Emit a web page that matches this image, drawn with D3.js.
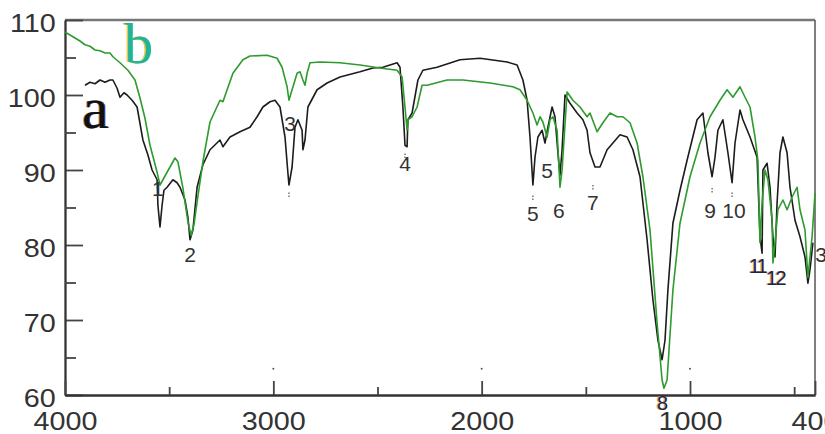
<!DOCTYPE html>
<html>
<head>
<meta charset="utf-8">
<script src="https://cdn.jsdelivr.net/npm/d3@7"></script>
<style>
  body { margin: 0; background: #fff; }
  svg { display: block; }
</style>
</head>
<body>
<div id="chart"></div>
<script>
const width = 825;
const height = 434;

// spectrum a (black), [wavenumber, transmittance]
const seriesA = [
    [3904, 101.3], [3880, 101.7], [3856, 101.5], [3832, 102.0], [3808, 101.7], [3784, 102.0],
    [3770, 102.0], [3750, 100.9], [3736, 99.7], [3717, 100.3], [3702, 100.0], [3678, 99.3],
    [3654, 98.4], [3626, 94.0], [3602, 92.0], [3582, 90.0], [3558, 88.7], [3554, 85.3],
    [3544, 82.4], [3534, 85.3], [3525, 87.3], [3510, 87.7], [3482, 88.7], [3462, 88.3],
    [3448, 87.7], [3424, 86.0], [3410, 83.7], [3400, 80.7], [3386, 82.0], [3366, 87.7],
    [3338, 90.7], [3304, 92.7], [3256, 94.0], [3242, 93.1], [3208, 94.4], [3160, 95.1],
    [3112, 95.7], [3078, 97.1], [3050, 98.4], [3016, 99.1], [2992, 99.3], [2968, 98.4],
    [2944, 94.4], [2930, 89.6], [2925, 88.0], [2910, 90.4], [2896, 95.7], [2882, 96.7],
    [2862, 95.3], [2858, 92.7], [2848, 94.0], [2834, 98.4], [2790, 100.7], [2742, 101.6],
    [2680, 102.4], [2584, 103.1], [2522, 103.6], [2474, 103.7], [2406, 104.3], [2392, 103.7],
    [2378, 98.4], [2368, 93.3], [2358, 93.1], [2354, 96.7], [2334, 97.6], [2306, 102.0],
    [2282, 103.3], [2214, 103.7], [2104, 104.7], [2008, 104.9], [1878, 104.4], [1830, 104.0],
    [1802, 102.0], [1782, 99.3], [1768, 94.4], [1754, 88.0], [1744, 91.7], [1730, 94.4],
    [1710, 95.3], [1696, 93.6], [1682, 95.7], [1662, 98.4], [1648, 97.1], [1634, 92.3],
    [1624, 89.3], [1614, 92.7], [1600, 100.0], [1576, 98.9], [1542, 97.6], [1514, 96.7],
    [1494, 95.3], [1480, 92.3], [1456, 90.4], [1432, 90.4], [1398, 92.7], [1370, 93.6],
    [1336, 94.7], [1302, 94.4], [1274, 92.7], [1240, 89.1], [1206, 80.7], [1178, 72.7],
    [1154, 67.3], [1134, 64.7], [1120, 67.3], [1106, 74.0], [1082, 82.9], [1048, 87.3],
    [1014, 91.3], [990, 94.0], [966, 96.7], [938, 97.6], [914, 92.3], [894, 89.1],
    [880, 91.7], [866, 95.3], [842, 96.7], [818, 92.3], [798, 88.3], [784, 93.6],
    [760, 98.0], [746, 96.7], [712, 94.4], [678, 91.7], [664, 81.1], [654, 78.9],
    [650, 90.0], [630, 90.9], [616, 87.7], [602, 81.1], [592, 78.4], [582, 85.6],
    [568, 92.3], [554, 94.4], [534, 92.3], [520, 87.7], [496, 83.3], [472, 81.1],
    [448, 78.4], [434, 74.9], [424, 76.7], [410, 80.3]
];

// spectrum b (green)
const seriesB = [
    [4000, 108.4], [3952, 107.6], [3928, 107.2], [3904, 106.7], [3880, 106.5], [3856, 106.0],
    [3832, 105.9], [3808, 105.6], [3784, 105.6], [3770, 105.1], [3736, 104.3], [3698, 103.3],
    [3664, 102.0], [3640, 99.6], [3616, 96.9], [3592, 93.3], [3558, 89.7], [3544, 88.0],
    [3530, 88.7], [3510, 89.7], [3472, 91.6], [3458, 91.1], [3434, 87.6], [3410, 83.1],
    [3395, 81.3], [3381, 82.7], [3366, 85.7], [3338, 91.1], [3304, 96.4], [3256, 99.3],
    [3242, 99.1], [3194, 102.9], [3146, 104.7], [3112, 105.2], [3030, 105.3], [2982, 104.9],
    [2958, 103.7], [2934, 101.1], [2925, 99.3], [2910, 100.7], [2886, 102.9], [2872, 103.1],
    [2858, 102.0], [2848, 101.3], [2838, 102.9], [2824, 104.3], [2776, 104.4], [2680, 104.3],
    [2584, 104.0], [2488, 103.6], [2406, 103.3], [2382, 102.4], [2368, 98.4], [2358, 95.3],
    [2354, 96.7], [2334, 97.1], [2310, 98.4], [2286, 101.3], [2262, 101.3], [2166, 102.0],
    [2090, 102.0], [1960, 101.6], [1850, 101.1], [1816, 100.7], [1782, 99.3], [1754, 97.6],
    [1734, 96.0], [1720, 97.1], [1706, 96.4], [1686, 94.4], [1672, 96.7], [1658, 97.1],
    [1638, 95.3], [1624, 87.7], [1614, 90.0], [1590, 100.4], [1562, 99.3], [1528, 98.4],
    [1494, 97.1], [1480, 97.6], [1446, 95.1], [1418, 96.3], [1384, 97.6], [1350, 97.1],
    [1322, 97.1], [1288, 96.3], [1254, 93.6], [1226, 89.1], [1192, 82.0], [1158, 69.6],
    [1134, 62.0], [1125, 60.9], [1110, 62.0], [1082, 74.0], [1048, 82.9], [1000, 89.1],
    [952, 93.6], [904, 97.1], [856, 99.3], [822, 100.7], [794, 99.7], [760, 101.1],
    [736, 99.7], [712, 98.4], [688, 94.4], [674, 91.3], [664, 80.3], [654, 85.6],
    [640, 90.0], [626, 88.7], [606, 83.3], [602, 77.6], [592, 80.3], [578, 84.7],
    [554, 86.0], [534, 84.7], [510, 86.4], [486, 87.7], [472, 84.7], [448, 82.0],
    [434, 75.7], [414, 81.1], [400, 86.9]
];

// band numbers: [text, wavenumber, value] (text baseline centre)
const bandLabels = [
    ["1", 3554, 86.5], ["2", 3400, 77.7], ["3", 2920, 95.2], ["4", 2368, 89.9],
    ["5", 1754, 83.2], ["5", 1686, 88.9], ["6", 1629, 83.6], ["7", 1466, 84.7],
    ["9", 904, 83.6], ["10", 789, 83.6], ["3", 371, 77.7]
];
const bandLabelsDark = [["8", 1139, 58.0], ["11", 678, 76.3], ["12", 592, 74.7]];
// little dotted marks under the band minima
const bandMarks = [[2925, 86.6], [2368, 91.8], [1754, 86.2], [1466, 87.6], [894, 87.2], [798, 86.6]];

const yMajor = [60, 70, 80, 90, 100, 110];
const yMinor = [65, 75, 85, 95, 105];
const xMajor = [4000, 3000, 2000, 1000, 400];
const xMinor = [3500, 2500, 1500, 500];
const stray = [3000, 2000, 1000];

const svg = d3.select("#chart")
    .append("svg")
    .attr("width", width)
    .attr("height", height);

const x = d3.scaleLinear().domain([4000, 400]).range([65, 815]);
const y = d3.scaleLinear().domain([60, 110]).range([395, 20]);

const tickFont = "'Liberation Sans', Arial, sans-serif";

// frame top / right
svg.append("line")
    .attr("x1", x(4000)).attr("x2", x(400))
    .attr("y1", y(110)).attr("y2", y(110))
    .attr("stroke", "#777").attr("stroke-width", 2.5);
svg.append("line")
    .attr("x1", x(400)).attr("x2", x(400))
    .attr("y1", y(110)).attr("y2", y(60))
    .attr("stroke", "#555").attr("stroke-width", 1.5);

// y axis
const yAxisG = svg.append("g")
    .attr("transform", `translate(${x(4000)},0)`)
    .call(d3.axisLeft(y).tickValues(yMajor).tickSize(-18).tickSizeOuter(0).tickPadding(8));
svg.append("g")
    .attr("transform", `translate(${x(4000)},0)`)
    .call(d3.axisLeft(y).tickValues(yMinor).tickSize(-11).tickSizeOuter(0).tickFormat(""));

// x axis
const xAxisG = svg.append("g")
    .attr("transform", `translate(0,${y(60)})`)
    .call(d3.axisBottom(x).tickValues(xMajor).tickSize(-14).tickSizeOuter(0)
        .tickPadding(17).tickFormat(d3.format("d")));
svg.append("g")
    .attr("transform", `translate(0,${y(60)})`)
    .call(d3.axisBottom(x).tickValues(xMinor).tickSize(-8).tickSizeOuter(0).tickFormat(""));

svg.selectAll(".domain").attr("stroke", "#333").attr("stroke-width", 1.8);
svg.selectAll(".tick line").attr("stroke", "#444").attr("stroke-width", 1.8);
svg.selectAll(".tick text")
    .attr("fill", "#333")
    .style("font-family", tickFont)
    .style("font-size", "25px");
yAxisG.selectAll(".tick text").attr("dy", "0.44em").attr("transform", "scale(1.15,1)");
xAxisG.selectAll(".tick text").attr("transform", "scale(1.15,1)");

// stray dots above the major ticks
svg.selectAll(".stray")
    .data(stray)
    .enter().append("circle")
    .attr("cx", d => x(d))
    .attr("cy", y(63.5))
    .attr("r", 1)
    .attr("fill", "#555");

const line = d3.line()
    .x(d => x(d[0]))
    .y(d => y(d[1]));

svg.append("path")
    .datum(seriesA)
    .attr("d", line)
    .attr("fill", "none")
    .attr("stroke", "#1c1c1c")
    .attr("stroke-width", 1.6)
    .attr("stroke-linejoin", "round");

svg.append("path")
    .datum(seriesB)
    .attr("d", line)
    .attr("fill", "none")
    .attr("stroke", "#2e9b2e")
    .attr("stroke-width", 1.6)
    .attr("stroke-linejoin", "round");

// marks
svg.selectAll(".mark")
    .data(bandMarks)
    .enter().append("line")
    .attr("x1", d => x(d[0])).attr("x2", d => x(d[0]))
    .attr("y1", d => y(d[1]) - 3).attr("y2", d => y(d[1]) + 3)
    .attr("stroke", "#555")
    .attr("stroke-width", 1.2)
    .attr("stroke-dasharray", "1.5,1.5");

// band numbers
svg.selectAll(".band")
    .data(bandLabels)
    .enter().append("text")
    .attr("x", d => x(d[1]))
    .attr("y", d => y(d[2]))
    .attr("text-anchor", "middle")
    .style("font-family", tickFont)
    .style("font-size", "21px")
    .attr("fill", "#333")
    .text(d => d[0]);

// dark band numbers with a faint colour fringe
[["#d9a05a", -0.8], ["#1c2448", 0.4]].forEach(([c, off]) => {
    svg.selectAll(null)
        .data(bandLabelsDark)
        .enter().append("text")
        .attr("x", d => x(d[1]) + off)
        .attr("y", d => y(d[2]))
        .attr("text-anchor", "middle")
        .style("font-family", tickFont)
        .style("font-size", "20px")
        .style("letter-spacing", "-2px")
        .attr("fill", c)
        .text(d => d[0]);
});

// series letters
function fringed(txt, px, py, size, layers) {
    layers.forEach(([c, off]) => {
        svg.append("text")
            .attr("x", px + off)
            .attr("y", py)
            .style("font-family", "'Liberation Serif', 'Times New Roman', serif")
            .style("font-size", size + "px")
            .attr("fill", c)
            .text(txt);
    });
}
fringed("b", 124, 63, 58, [["#e8c84a", -1.2], ["#22b498", 0.3]]);
fringed("a", 82, 128, 60, [["#e38a2a", -1], ["#3a64c8", 1], ["#111", 0]]);
</script>
</body>
</html>
